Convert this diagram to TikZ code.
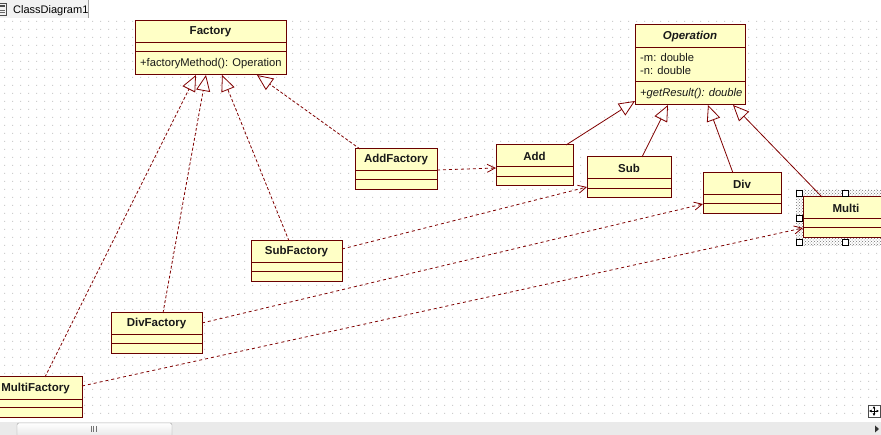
\documentclass[tikz,border=0pt]{standalone}
\usepackage{fontspec}
\setmainfont{Liberation Sans}
\usetikzlibrary{arrows.meta,calc,patterns}

\definecolor{umlline}{HTML}{800000}
\definecolor{umlborder}{HTML}{6A0000}
\definecolor{umlfill}{HTML}{FFFFC6}
\definecolor{gridgray}{HTML}{CDCDCD}
\definecolor{tabgray}{HTML}{F2F2F2}
\definecolor{framegray}{HTML}{A0A0A0}
\definecolor{scrollbg}{HTML}{EAEAEA}

\tikzset{
  classbox/.style={draw=umlborder, fill=umlfill, line width=1pt, inner sep=0pt,
    outer sep=0pt, anchor=north west},
  compline/.style={draw=umlborder, line width=1pt},
  classtitle/.style={font=\fontsize{11.5}{13}\selectfont\bfseries, inner sep=0pt, text=black!90},
  member/.style={font=\fontsize{11.2}{13}\selectfont, inner sep=0pt, anchor=west, text=black!90},
  generalize/.style={draw=umlline, line width=0.8pt,
    -{Triangle[open,length=16pt,width=14pt,line width=0.8pt]}},
  realize/.style={generalize, dash pattern=on 3pt off 2pt},
  depend/.style={draw=umlline, line width=0.8pt, dash pattern=on 3pt off 3pt,
    -{Straight Barb[length=8pt,width=8pt,line width=0.8pt]}},
}

% class box: name, x1, y1, x2, y2, first divider, second divider, title
\newcommand\umlclass[8]{%
  \node[classbox, minimum width={(#4-(#2))*1pt}, minimum height={(#5-(#3))*1pt}] (#1) at (#2,#3) {};
  \draw[compline] (#2,#6) -- (#4,#6) (#2,#7) -- (#4,#7);
  \node[classtitle] (#1-title) at ({(#2+#4)/2},{(#3+#6)/2}) {#8};
}

\begin{document}
\begin{tikzpicture}[x=1pt,y=-1pt]
\useasboundingbox (0,0) rectangle (881,435);
\clip (0,0) rectangle (881,435);
\fill[white] (0,0) rectangle (881,435);

% dotted drawing grid
\fill[gridgray] \foreach \gx in {4,12,...,880} { \foreach \gy in {21,29,...,420} { (\gx,\gy) rectangle ++(1,1) } };

% document tab
\fill[tabgray] (-1,-1) rectangle (88,18);
\draw[framegray] (88,-1) -- (88,18);
\draw[black!70, line width=0.8pt] (-2,3) rectangle (6,15);
\fill[black!70] (-1,5) rectangle (5,7);
\draw[black!60, line width=0.6pt] (-1,10) -- (5,10) (-1,12.5) -- (5,12.5);
\node[font=\fontsize{11}{13}\selectfont, anchor=west, inner sep=0pt] (tabtext) at (13,10.5) {ClassDiagram1};

% selection frame around Multi
\fill[pattern=crosshatch dots, pattern color=black!55] (796,190) rectangle (895,246);

% classes
\umlclass{factory}{135}{21}{286}{75}{43}{52}{Factory}
\node[member] (factory-op) at (140,63.5) {+factoryMethod(): Operation};

\umlclass{op}{635}{25}{745}{105}{48}{82}{\itshape Operation}
\node[member] (op-m) at (640,58) {-m: double};
\node[member] (op-n) at (640,70.5) {-n: double};
\node[member, font=\fontsize{11.2}{13}\selectfont\itshape] (op-get) at (640,93.5) {+getResult(): double};

\umlclass{addf}{355}{149}{437}{190}{171}{180}{AddFactory}
\umlclass{add}{496}{145}{573}{186}{167}{177}{Add}
\umlclass{sub}{587}{157}{671}{198}{179}{189}{Sub}
\umlclass{div}{703}{173}{781}{214}{195}{204}{Div}
\umlclass{multi}{803}{197}{889}{238}{219}{228}{Multi}
\umlclass{subf}{251}{241}{342}{282}{263}{272}{SubFactory}
\umlclass{divf}{111}{313}{202}{354}{335}{344}{DivFactory}
\umlclass{multif}{-11}{377}{82}{418}{400}{408}{MultiFactory}

% selection handles
\foreach \hx/\hy [count=\hi] in {799.5/193.5, 845/193.5, 799.5/218.5, 799.5/242.5, 845/242.5}
  \node[draw=black, fill=white, line width=0.7pt, minimum size=6pt, inner sep=0pt] (handle\hi) at (\hx,\hy) {};

% generalizations to Operation
\draw[generalize] ($(add.north west)+(70,0)$) -- ($(op.south west)+(0,-4)$);
\draw[generalize] ($(sub.north west)+(55,0)$) -- ($(op.south west)+(33,0)$);
\draw[generalize] ($(div.north west)+(30,0)$) -- ($(op.south west)+(73,0)$);
\draw[generalize] ($(multi.north west)+(19,0)$) -- ($(op.south west)+(98,0)$);

% realizations of Factory
\draw[realize] ($(addf.north west)+(5,0)$) -- ($(factory.south west)+(122,0)$);
\draw[realize] ($(subf.north west)+(38,0)$) -- ($(factory.south west)+(87,0)$);
\draw[realize] ($(divf.north west)+(52,0)$) -- ($(factory.south west)+(71,0)$);
\draw[realize] ($(multif.north west)+(56,0)$) -- ($(factory.south west)+(61,0)$);

% dependencies: factories create operations
\draw[depend] ($(addf.north east)+(0,21)$) -- ($(add.north west)+(0,23)$);
\draw[depend] ($(subf.north east)+(0,8)$) -- ($(sub.north west)+(0,30)$);
\draw[depend] ($(divf.north east)+(0,10)$) -- ($(div.north west)+(0,31)$);
\draw[depend] ($(multif.north east)+(0,9)$) -- ($(multi.north west)+(0,31)$);

% move widget
\node[draw=black!70, fill=white, line width=0.7pt, minimum size=12pt, inner sep=0pt] (movebox) at (874,411) {};
\draw[black, line width=0.8pt, {Latex[length=2.5pt,width=3pt]}-{Latex[length=2.5pt,width=3pt]}] ($(movebox.center)+(-5,0)$) -- ($(movebox.center)+(5,0)$);
\draw[black, line width=0.8pt, {Latex[length=2.5pt,width=3pt]}-{Latex[length=2.5pt,width=3pt]}] ($(movebox.center)+(0,-5)$) -- ($(movebox.center)+(0,5)$);

% horizontal scroll bar
\fill[scrollbg] (0,422) rectangle (881,436);
\draw[framegray, top color=white, bottom color=black!12, rounded corners=2pt] (17,423) rectangle (172,440);
\draw[black!55, line width=0.8pt] (91,426) -- (91,432) (93.5,426) -- (93.5,432) (96,426) -- (96,432);
\fill[black!80] (875,425.5) -- (879,429) -- (875,432.5) -- cycle;
\end{tikzpicture}
\end{document}
